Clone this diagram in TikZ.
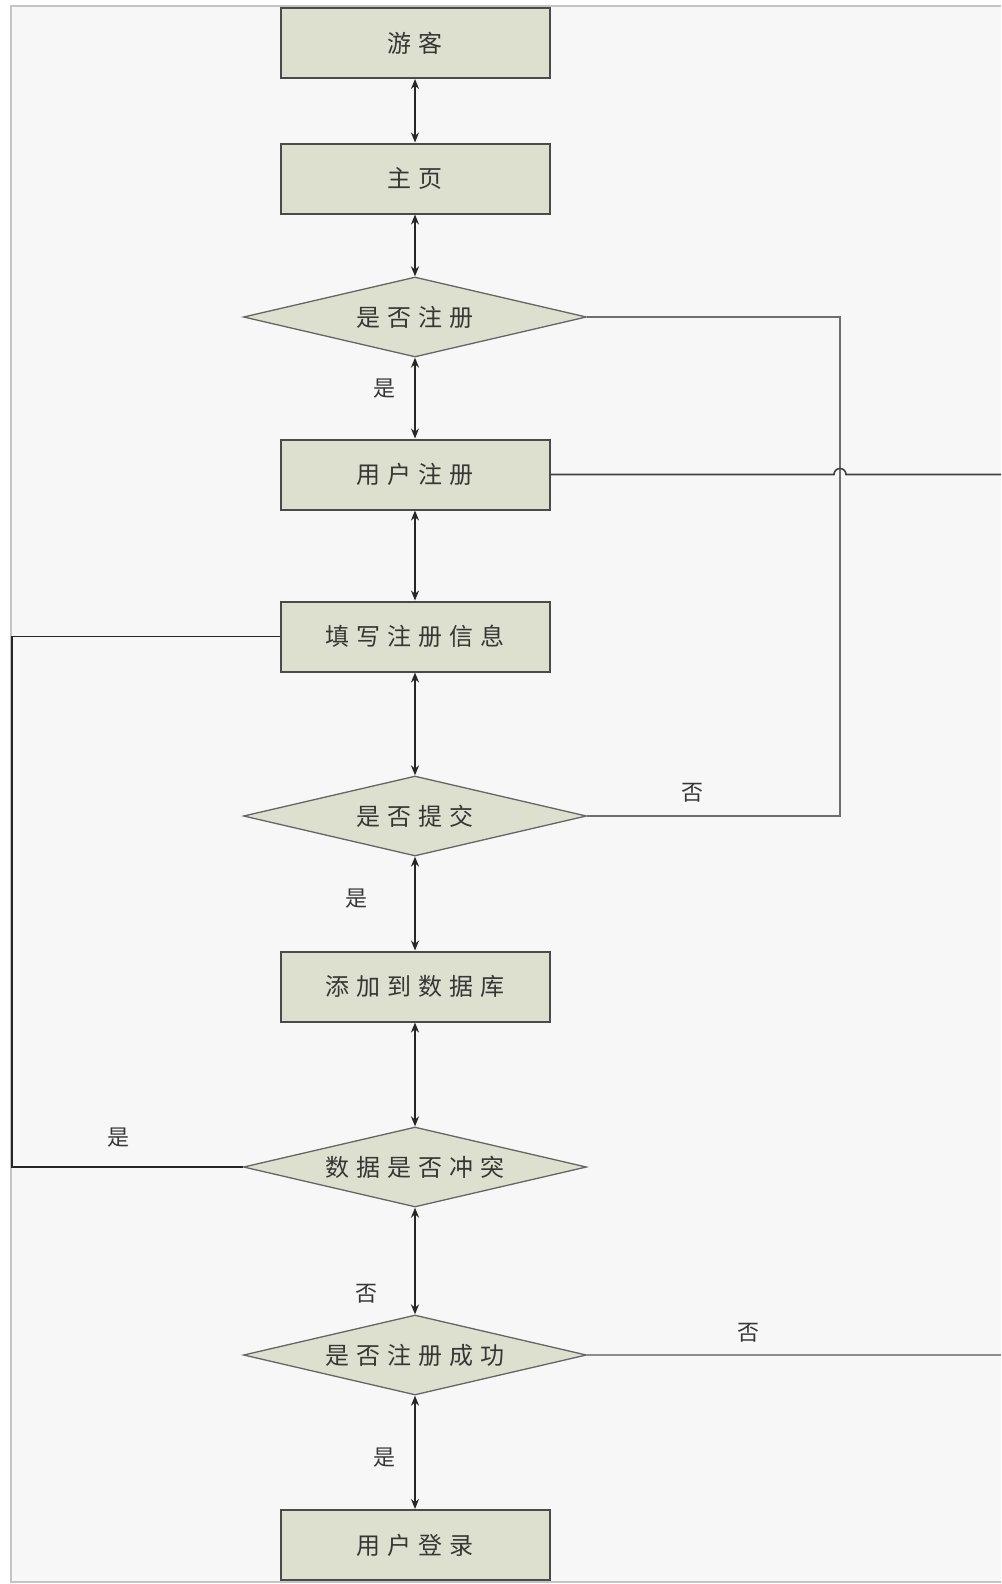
\documentclass[tikz,border=0pt]{standalone}
\usepackage{fontspec}
\newfontfamily\cjk[LetterSpace=30]{Noto Sans CJK SC}
\newfontfamily\cjklabel{Noto Sans CJK SC}
\usetikzlibrary{shapes.geometric,arrows.meta}
\definecolor{boxfill}{HTML}{DDE0CF}
\definecolor{boxline}{HTML}{4A4A4A}
\definecolor{txt}{HTML}{363636}
\definecolor{paper}{HTML}{F7F7F7}
\definecolor{framegray}{HTML}{C4C4C4}
\definecolor{wire}{HTML}{6E6E6E}
\tikzset{
  stepbox/.style={rectangle, draw=boxline, fill=boxfill, line width=2pt,
    minimum width=269pt, minimum height=70pt, inner sep=0pt,
    font=\cjk\fontsize{24}{26}\selectfont, text=txt},
  decision/.style={diamond, aspect=4.3, draw=boxline!85, fill=boxfill, line width=1.3pt,
    minimum width=343pt, minimum height=80pt, inner sep=0pt,
    font=\cjk\fontsize{24}{26}\selectfont, text=txt},
  biarrow/.style={{Stealth[length=10pt,width=8pt]}-{Stealth[length=10pt,width=8pt]},
    line width=1.8pt, black!85},
  wireline/.style={line width=1.8pt, wire},
  darkwire/.style={line width=1.8pt, black!75},
  branch/.style={font=\cjklabel\fontsize{22}{24}\selectfont, text=txt, inner sep=0pt}
}
\begin{document}
\begin{tikzpicture}[x=1pt,y=-1pt]
  % page and thin frame
  \fill[white] (0,0) rectangle (1001,1584);
  \fill[paper] (11,6) rectangle (1001,1582);
  \draw[framegray, line width=1.6pt] (1001,6) -- (11,6) -- (11,1582) -- (1001,1582);
  \useasboundingbox (0,0) rectangle (1001,1584);

  % main column
  \node[stepbox] (visitor) at (415,43)    {游客};
  \node[stepbox] (home)    at (415,178.5) {主页};
  \node[decision] (isreg)  at (415,317)   {是否注册};
  \node[stepbox] (reg)     at (415,474.5) {用户注册};
  \node[stepbox] (fill)    at (415,636.5) {填写注册信息};
  \node[decision] (submit) at (415,816)   {是否提交};
  \node[stepbox] (adddb)   at (415,986.5) {添加到数据库};
  \node[decision] (clash)  at (415,1167)  {数据是否冲突};
  \node[decision] (ok)     at (415,1355)  {是否注册成功};
  \node[stepbox] (login)   at (415,1545)  {用户登录};

  % vertical two-way links
  \draw[biarrow] (visitor.south) -- (home.north);
  \draw[biarrow] (home.south) -- (isreg.north);
  \draw[biarrow] (isreg.south) -- (reg.north);
  \draw[biarrow] (reg.south) -- (fill.north);
  \draw[biarrow] (fill.south) -- (submit.north);
  \draw[biarrow] (submit.south) -- (adddb.north);
  \draw[biarrow] (adddb.south) -- (clash.north);
  \draw[biarrow] (clash.south) -- (ok.north);
  \draw[biarrow] (ok.south) -- (login.north);

  % side routes
  \coordinate (rtop) at (840,317);
  \coordinate (rbot) at (840,816);
  \draw[wireline, line width=2.8pt] (isreg.east) -- (rtop) -- (rbot) -- (submit.east);

  \coordinate (hopin)  at (834,474.5);
  \coordinate (regout) at (1001,474.5);
  \draw[darkwire, line width=1.6pt] (reg.east) -- (hopin)
     arc[start angle=180, end angle=0, radius=6pt] -- (regout);

  \coordinate (ltop) at (12,636.5);
  \coordinate (lbot) at (12,1167);
  \draw[darkwire, black!85] (fill.west) -- (ltop) -- (lbot) -- (clash.west);

  \coordinate (okout) at (1001,1355);
  \draw[wireline, line width=2.4pt, black!45] (ok.east) -- (okout);

  % branch labels
  \node[branch] (y1) at (384,389)  {是};
  \node[branch] (n1) at (692,793)  {否};
  \node[branch] (y2) at (356,899)  {是};
  \node[branch] (y3) at (118,1138) {是};
  \node[branch] (n2) at (366,1294) {否};
  \node[branch] (n3) at (748,1333) {否};
  \node[branch] (y4) at (384,1458) {是};
\end{tikzpicture}
\end{document}
